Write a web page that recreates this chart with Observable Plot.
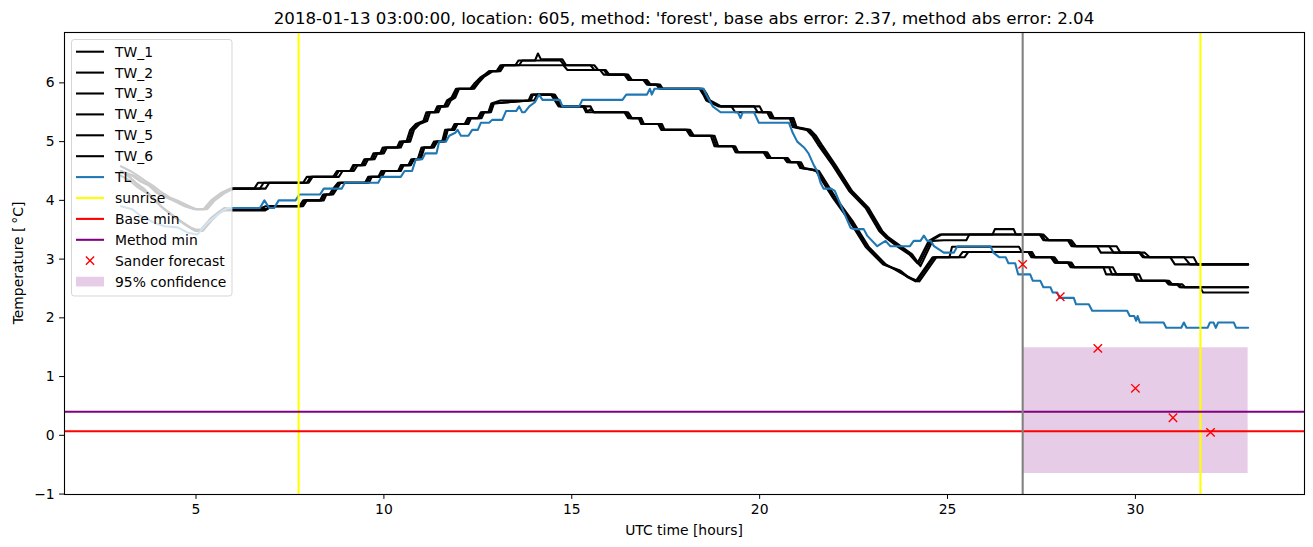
<!DOCTYPE html>
<html><head><meta charset="utf-8">
<script src="https://cdn.jsdelivr.net/npm/d3@7"></script>
<script src="https://cdn.jsdelivr.net/npm/@observablehq/plot@0.6"></script>
<style>
body{margin:0;background:#fff;}
#wrap{position:relative;width:1313px;height:547px;overflow:hidden;background:#fff;}
#wrap > svg{position:absolute;left:0;top:0;}
</style></head><body><div id="wrap"></div>
<script>
const titleText = "2018-01-13 03:00:00, location: 605, method: 'forest', base abs error: 2.37, method abs error: 2.04";
const xLabel = "UTC time [hours]";
const yLabel = "Temperature [\u2009°C]";
const xTicks = [5, 10, 15, 20, 25, 30];
const yTicks = [-1, 0, 1, 2, 3, 4, 5, 6];
const legendLabels = ["TW_1","TW_2","TW_3","TW_4","TW_5","TW_6","TL","sunrise","Base min","Method min","Sander forecast","95% confidence"];

const tw1 = [[3.0,4.58],[3.25,4.5],[3.45,4.42],[3.65,4.33],[3.85,4.25],[4.1,4.13],[4.3,4.05],[4.5,4.0],[4.75,3.92],[5.0,3.85],[5.2,3.85],[5.4,4.0],[5.65,4.12],[5.9,4.2],[6.55,4.2],[6.65,4.3],[7.85,4.3],[7.95,4.4],[8.7,4.4],[8.8,4.5],[9.15,4.5],[9.22,4.6],[9.45,4.6],[9.52,4.7],[9.7,4.7],[9.77,4.8],[9.95,4.8],[10.02,4.9],[10.4,4.9],[10.47,5.0],[10.65,5.0],[10.75,5.2],[10.88,5.3],[11.1,5.35],[11.18,5.5],[11.4,5.5],[11.46,5.6],[11.65,5.6],[11.72,5.7],[11.85,5.75],[11.96,5.9],[12.35,5.9],[12.48,6.0],[12.62,6.1],[12.72,6.15],[12.85,6.2],[13.05,6.2],[13.15,6.3],[13.5,6.3],[13.58,6.38],[14.02,6.38],[14.1,6.5],[14.18,6.4],[14.75,6.4],[14.85,6.3],[15.5,6.3],[15.6,6.22],[15.75,6.22],[15.85,6.14],[16.45,6.14],[16.55,6.05],[16.95,6.05],[17.05,5.97],[17.3,5.97],[17.38,5.9],[18.45,5.9],[18.55,5.8],[18.62,5.7],[18.95,5.6],[19.85,5.6],[19.95,5.5],[20.25,5.5],[20.33,5.4],[20.85,5.4],[20.93,5.25],[21.3,5.2],[21.45,5.1],[21.6,4.95],[21.98,4.6],[22.42,4.16],[22.86,3.87],[23.22,3.48],[23.39,3.37],[23.75,3.2],[24.02,3.08],[24.24,2.91],[24.55,3.31],[24.85,3.42],[26.2,3.42],[26.26,3.51],[26.76,3.51],[26.82,3.42],[27.5,3.42],[27.6,3.32],[28.25,3.32],[28.35,3.22],[28.98,3.22],[29.08,3.11],[30.13,3.11],[30.25,3.03],[30.93,3.03],[31.05,2.91],[33.0,2.91]];
const tw2 = [[3.0,4.5],[3.3,4.42],[3.5,4.33],[3.75,4.25],[3.95,4.13],[4.2,4.05],[4.45,3.98],[4.7,3.9],[4.95,3.85],[5.25,3.85],[5.45,4.0],[5.7,4.12],[5.95,4.2],[6.7,4.2],[6.8,4.3],[8.0,4.3],[8.1,4.4],[8.8,4.4],[8.9,4.5],[9.2,4.5],[9.3,4.6],[9.5,4.6],[9.58,4.7],[9.75,4.7],[9.83,4.8],[10.0,4.8],[10.08,4.9],[10.45,4.9],[10.52,5.0],[10.7,5.0],[10.8,5.2],[10.95,5.3],[11.15,5.35],[11.23,5.5],[11.45,5.5],[11.52,5.6],[11.7,5.6],[11.78,5.7],[11.9,5.75],[12.0,5.9],[12.4,5.9],[12.52,6.0],[12.66,6.1],[12.78,6.15],[12.9,6.2],[13.1,6.2],[13.2,6.3],[13.6,6.3],[13.68,6.38],[14.7,6.38],[14.8,6.3],[15.6,6.3],[15.7,6.22],[15.85,6.22],[15.95,6.14],[16.5,6.14],[16.6,6.05],[17.0,6.05],[17.1,5.97],[17.35,5.97],[17.42,5.9],[18.5,5.9],[18.6,5.8],[18.68,5.7],[18.98,5.6],[19.25,5.6],[19.35,5.5],[20.3,5.5],[20.38,5.4],[20.9,5.4],[20.98,5.25],[21.35,5.2],[21.5,5.1],[21.65,4.95],[22.02,4.6],[22.46,4.16],[22.9,3.87],[23.26,3.48],[23.43,3.37],[23.8,3.2],[24.06,3.08],[24.28,2.88],[24.6,3.31],[24.9,3.32],[25.5,3.32],[25.58,3.42],[27.55,3.42],[27.7,3.32],[28.3,3.32],[28.42,3.22],[29.3,3.22],[29.42,3.11],[30.25,3.11],[30.38,3.03],[31.3,3.03],[31.45,2.91],[33.0,2.91]];
const tw3 = [[3.0,4.5],[3.35,4.42],[3.55,4.33],[3.8,4.25],[4.0,4.13],[4.25,4.05],[4.5,3.98],[4.75,3.9],[5.0,3.85],[5.3,3.85],[5.5,4.0],[5.75,4.12],[6.0,4.2],[6.85,4.2],[6.95,4.3],[7.95,4.3],[8.05,4.4],[8.65,4.4],[8.75,4.5],[9.1,4.5],[9.18,4.6],[9.4,4.6],[9.48,4.7],[9.65,4.7],[9.72,4.8],[9.9,4.8],[9.97,4.9],[10.35,4.9],[10.42,5.0],[10.6,5.0],[10.7,5.2],[10.85,5.3],[11.05,5.35],[11.13,5.5],[11.35,5.5],[11.42,5.6],[11.6,5.6],[11.68,5.7],[11.8,5.75],[11.92,5.9],[12.3,5.9],[12.42,6.0],[12.58,6.1],[12.7,6.15],[12.8,6.2],[13.0,6.2],[13.1,6.3],[14.78,6.3],[14.88,6.22],[15.9,6.22],[16.0,6.14],[16.4,6.14],[16.5,6.05],[16.9,6.05],[17.0,5.97],[17.25,5.97],[17.33,5.9],[18.4,5.9],[18.5,5.8],[18.58,5.7],[18.9,5.6],[20.0,5.6],[20.08,5.5],[20.2,5.5],[20.28,5.4],[20.8,5.4],[20.88,5.25],[21.25,5.2],[21.4,5.1],[21.55,4.95],[21.94,4.6],[22.38,4.16],[22.82,3.87],[23.18,3.48],[23.35,3.37],[23.7,3.2],[23.98,3.08],[24.2,2.93],[24.5,3.31],[24.8,3.42],[27.45,3.42],[27.55,3.32],[28.2,3.32],[28.3,3.22],[29.5,3.22],[29.6,3.11],[30.1,3.11],[30.2,3.03],[31.55,3.03],[31.65,2.91],[33.0,2.91]];
const tw4 = [[3.0,4.5],[3.2,4.42],[3.4,4.3],[3.63,4.19],[3.85,4.05],[4.07,3.9],[4.3,3.78],[4.51,3.68],[4.78,3.56],[4.96,3.5],[5.13,3.5],[5.4,3.7],[5.6,3.8],[5.75,3.87],[6.75,3.87],[6.85,3.9],[7.8,3.9],[7.9,4.0],[8.35,4.0],[8.42,4.1],[8.6,4.1],[8.7,4.2],[8.8,4.3],[9.55,4.3],[9.62,4.4],[9.9,4.4],[9.98,4.5],[10.42,4.5],[10.5,4.6],[10.7,4.6],[10.78,4.7],[10.95,4.7],[11.05,4.9],[11.3,4.9],[11.38,5.0],[11.58,5.0],[11.68,5.2],[11.85,5.2],[11.92,5.3],[12.2,5.3],[12.28,5.4],[12.55,5.4],[12.62,5.5],[12.82,5.5],[12.9,5.65],[13.85,5.7],[13.92,5.8],[14.5,5.8],[14.6,5.7],[14.7,5.6],[15.35,5.6],[15.42,5.5],[16.45,5.5],[16.55,5.4],[16.8,5.4],[16.88,5.3],[17.35,5.3],[17.42,5.2],[18.1,5.2],[18.2,5.1],[18.75,5.1],[18.85,4.92],[19.3,4.92],[19.38,4.82],[20.15,4.82],[20.25,4.72],[20.7,4.72],[20.78,4.65],[21.05,4.65],[21.12,4.55],[21.4,4.52],[21.53,4.5],[21.98,4.04],[22.42,3.65],[22.86,3.2],[23.31,2.91],[23.75,2.8],[23.95,2.7],[24.19,2.62],[24.64,3.03],[25.05,3.03],[25.12,3.21],[26.9,3.21],[26.98,3.12],[27.2,3.12],[27.28,3.03],[27.8,3.03],[27.88,2.94],[28.25,2.94],[28.32,2.86],[29.15,2.86],[29.22,2.74],[30.0,2.74],[30.08,2.63],[30.85,2.63],[30.92,2.57],[31.15,2.57],[31.22,2.52],[33.0,2.52]];
const tw5 = [[3.0,4.42],[3.25,4.33],[3.45,4.22],[3.7,4.12],[3.9,4.0],[4.12,3.87],[4.35,3.76],[4.58,3.65],[4.85,3.54],[5.0,3.5],[5.2,3.5],[5.45,3.68],[5.65,3.8],[5.8,3.83],[6.85,3.83],[6.95,3.9],[7.85,3.9],[7.95,4.0],[8.3,4.0],[8.38,4.1],[8.55,4.1],[8.65,4.2],[8.78,4.3],[9.5,4.3],[9.58,4.4],[9.85,4.4],[9.93,4.5],[10.38,4.5],[10.45,4.6],[10.65,4.6],[10.73,4.7],[10.9,4.7],[11.0,4.9],[11.25,4.9],[11.33,5.0],[11.55,5.0],[11.63,5.2],[11.8,5.2],[11.88,5.3],[12.15,5.3],[12.23,5.4],[12.5,5.4],[12.58,5.5],[12.78,5.5],[12.86,5.65],[13.1,5.7],[14.0,5.7],[14.08,5.8],[14.45,5.8],[14.55,5.7],[14.65,5.6],[15.5,5.6],[15.58,5.5],[16.5,5.5],[16.6,5.4],[16.85,5.4],[16.92,5.3],[17.4,5.3],[17.47,5.2],[18.15,5.2],[18.25,5.1],[18.8,5.1],[18.9,4.92],[19.35,4.92],[19.43,4.82],[20.2,4.82],[20.3,4.72],[20.75,4.72],[20.83,4.65],[21.1,4.65],[21.18,4.55],[21.45,4.52],[21.58,4.5],[22.03,4.04],[22.47,3.65],[22.91,3.2],[23.36,2.91],[23.8,2.75],[24.0,2.68],[24.25,2.62],[24.7,3.03],[25.3,3.03],[25.4,3.12],[27.25,3.12],[27.33,3.03],[27.85,3.03],[27.95,2.94],[28.3,2.94],[28.38,2.86],[29.3,2.86],[29.38,2.74],[30.1,2.74],[30.18,2.63],[30.9,2.63],[30.98,2.57],[31.25,2.57],[31.32,2.52],[31.72,2.52],[31.8,2.43],[33.0,2.43]];
const tw6 = [[3.0,4.5],[3.22,4.4],[3.42,4.28],[3.66,4.16],[3.88,4.02],[4.1,3.88],[4.32,3.77],[4.55,3.66],[4.8,3.55],[4.98,3.48],[5.18,3.48],[5.42,3.69],[5.62,3.8],[5.78,3.85],[6.9,3.85],[7.0,3.9],[7.75,3.9],[7.85,4.0],[8.4,4.0],[8.47,4.1],[8.65,4.1],[8.75,4.2],[8.85,4.3],[9.6,4.3],[9.68,4.4],[9.95,4.4],[10.03,4.5],[10.45,4.5],[10.53,4.6],[10.72,4.6],[10.8,4.7],[10.98,4.7],[11.08,4.9],[11.33,4.9],[11.42,5.0],[11.62,5.0],[11.7,5.2],[11.88,5.2],[11.96,5.3],[12.25,5.3],[12.32,5.4],[12.6,5.4],[12.67,5.5],[12.85,5.5],[12.93,5.65],[13.9,5.7],[13.97,5.8],[14.55,5.8],[14.65,5.7],[14.75,5.6],[15.3,5.6],[15.38,5.5],[15.5,5.55],[15.6,5.5],[16.4,5.5],[16.5,5.4],[16.78,5.4],[16.85,5.3],[17.3,5.3],[17.38,5.2],[18.05,5.2],[18.15,5.1],[18.7,5.1],[18.8,4.92],[19.28,4.92],[19.36,4.82],[20.1,4.82],[20.2,4.72],[20.65,4.72],[20.73,4.65],[21.0,4.65],[21.08,4.55],[21.38,4.52],[21.5,4.5],[21.95,4.04],[22.39,3.65],[22.83,3.2],[23.28,2.91],[23.72,2.8],[23.92,2.7],[24.15,2.62],[24.6,3.03],[25.45,3.03],[25.55,3.12],[27.15,3.12],[27.23,3.03],[27.75,3.03],[27.85,2.94],[28.2,2.94],[28.28,2.86],[29.4,2.86],[29.5,2.74],[29.95,2.74],[30.03,2.63],[30.8,2.63],[30.88,2.57],[31.1,2.57],[31.18,2.52],[33.0,2.52]];
const tl = [[3.0,3.9],[3.3,3.85],[3.54,3.73],[3.89,3.62],[4.16,3.56],[4.51,3.54],[4.78,3.45],[5.04,3.42],[5.31,3.62],[5.58,3.76],[5.84,3.87],[6.7,3.87],[6.82,4.0],[6.95,3.87],[7.08,3.87],[7.2,4.0],[7.65,4.0],[7.75,4.1],[8.3,4.1],[8.4,4.2],[8.88,4.2],[8.96,4.3],[9.85,4.3],[9.93,4.4],[10.45,4.4],[10.55,4.5],[10.75,4.5],[10.85,4.7],[11.02,4.7],[11.1,4.8],[11.4,4.8],[11.47,5.0],[11.65,5.0],[11.74,5.1],[11.9,5.15],[11.96,5.2],[12.05,5.1],[12.25,5.1],[12.35,5.2],[12.5,5.2],[12.58,5.32],[12.8,5.32],[12.88,5.37],[13.15,5.37],[13.25,5.52],[13.52,5.52],[13.6,5.6],[13.68,5.5],[13.75,5.5],[13.87,5.6],[14.02,5.67],[14.13,5.8],[14.22,5.71],[14.68,5.71],[14.75,5.6],[15.2,5.6],[15.28,5.71],[16.35,5.71],[16.45,5.8],[17.0,5.8],[17.08,5.9],[17.13,5.8],[17.2,5.9],[18.5,5.9],[18.62,5.75],[18.75,5.6],[18.96,5.5],[19.42,5.5],[19.49,5.4],[19.55,5.5],[19.85,5.5],[19.98,5.32],[20.78,5.32],[20.88,5.15],[21.0,5.0],[21.18,4.9],[21.3,4.8],[21.44,4.6],[21.53,4.5],[21.62,4.3],[21.7,4.2],[21.9,4.2],[22.0,4.16],[22.15,3.93],[22.42,3.53],[22.51,3.51],[22.77,3.51],[22.86,3.4],[23.13,3.22],[23.35,3.31],[23.48,3.22],[24.0,3.22],[24.1,3.31],[24.28,3.31],[24.37,3.4],[24.46,3.31],[24.55,3.31],[24.64,3.22],[24.9,3.11],[25.17,3.11],[25.26,3.22],[26.14,3.22],[26.22,3.11],[26.38,3.03],[26.55,3.03],[26.62,2.93],[26.8,2.93],[26.88,2.74],[27.2,2.74],[27.27,2.63],[27.47,2.63],[27.55,2.52],[27.74,2.52],[27.8,2.43],[27.92,2.43],[27.98,2.34],[28.36,2.34],[28.42,2.23],[28.76,2.23],[28.85,2.12],[29.78,2.12],[29.85,2.03],[29.97,2.03],[30.02,1.95],[30.06,2.03],[30.12,1.92],[30.75,1.92],[30.82,1.83],[31.22,1.83],[31.29,1.92],[31.36,1.83],[31.92,1.83],[31.98,1.92],[32.08,1.92],[32.14,1.83],[32.2,1.92],[32.62,1.92],[32.68,1.83],[33.0,1.83]];

const sunriseHours = [7.73, 31.73];
const forecastStartHour = [27.0];
const baseMin = [0.07];
const methodMin = [0.40];
const forecastHours = [27, 28, 29, 30, 31, 32];
const forecastValues = [2.91, 2.36, 1.48, 0.80, 0.30, 0.05];
const confidenceHours = [27, 33];
const confidenceBounds = [-0.65, 1.49];

const twSeries = [["TW_1", tw1], ["TW_2", tw2], ["TW_3", tw3], ["TW_4", tw4], ["TW_5", tw5], ["TW_6", tw6]];
const twRows = twSeries.flatMap(([name, pts]) => pts.map(([h, v]) => ({name, h, v})));
const tlRows = tl.map(([h, v]) => ({h, v}));
const forecastRows = forecastHours.map((h, i) => ({h, v: forecastValues[i]}));
const confRows = [{x1: confidenceHours[0], x2: confidenceHours[1], y1: confidenceBounds[0], y2: confidenceBounds[1]}];

const FONT = "DejaVu Sans";
const LW = 2.08;
const chart = Plot.plot({
  width: 1313, height: 547,
  marginLeft: 64, marginRight: 9, marginTop: 32, marginBottom: 53,
  style: {fontFamily: FONT, fontSize: "13.9px", background: "white", color: "black", overflow: "visible"},
  x: {domain: [1.5, 34.5], ticks: xTicks, tickSize: 4.9, tickPadding: 4.9, label: null},
  y: {domain: [-1.0075, 6.8575], ticks: yTicks, tickSize: 4.9, tickPadding: 4.9, label: null},
  marks: [
    Plot.rect(confRows, {x1: "x1", x2: "x2", y1: "y1", y2: "y2", fill: "purple", fillOpacity: 0.2}),
    Plot.line(twRows, {x: "h", y: "v", z: "name", stroke: "black", strokeWidth: LW}),
    Plot.line(tlRows, {x: "h", y: "v", stroke: "#1f77b4", strokeWidth: LW}),
    Plot.ruleX(sunriseHours, {stroke: "yellow", strokeWidth: LW}),
    Plot.ruleY(baseMin, {stroke: "red", strokeWidth: LW}),
    Plot.ruleY(methodMin, {stroke: "purple", strokeWidth: LW}),
    Plot.ruleX(forecastStartHour, {stroke: "gray", strokeWidth: LW}),
    Plot.dot(forecastRows, {x: "h", y: "v", symbol: "times", r: 3.9, stroke: "red", strokeWidth: 1.4}),
    Plot.frame({stroke: "black", strokeWidth: 1.1})
  ]
});
const wrap = document.getElementById("wrap");
wrap.appendChild(chart);

// overlay: title, axis labels, legend
const NS = "http://www.w3.org/2000/svg";
const ov = document.createElementNS(NS, "svg");
ov.setAttribute("width", 1313); ov.setAttribute("height", 547);
ov.setAttribute("font-family", FONT);
wrap.appendChild(ov);
function el(tag, attrs, parent = ov) {
  const e = document.createElementNS(NS, tag);
  for (const k in attrs) e.setAttribute(k, attrs[k]);
  parent.appendChild(e);
  return e;
}
el("text", {x: 684, y: 23.7, "text-anchor": "middle", "font-size": "16.67px", fill: "black"}).textContent = titleText;
el("text", {x: 684, y: 535, "text-anchor": "middle", "font-size": "13.9px", fill: "black"}).textContent = xLabel;
el("text", {transform: "translate(22.5,263) rotate(-90)", "text-anchor": "middle", "font-size": "13.9px", fill: "black"}).textContent = yLabel;

// legend
el("rect", {x: 71.5, y: 39.5, width: 160.5, height: 256.5, rx: 2.8, fill: "white", "fill-opacity": 0.8, stroke: "#cccccc", "stroke-opacity": 0.8, "stroke-width": 1});
const legendStyles = [
  {t: "line", c: "black"}, {t: "line", c: "black"}, {t: "line", c: "black"},
  {t: "line", c: "black"}, {t: "line", c: "black"}, {t: "line", c: "black"},
  {t: "line", c: "#1f77b4"}, {t: "line", c: "yellow"}, {t: "line", c: "red"},
  {t: "line", c: "purple"}, {t: "x", c: "red"}, {t: "patch", c: "purple"}
];
legendLabels.forEach((lab, i) => {
  const cy = 51.7 + 20.9 * i;
  const s = legendStyles[i];
  if (s.t === "line") el("line", {x1: 76, x2: 104, y1: cy, y2: cy, stroke: s.c, "stroke-width": LW});
  else if (s.t === "x") el("path", {d: `M${90-4.1},${cy-4.1}L${90+4.1},${cy+4.1}M${90-4.1},${cy+4.1}L${90+4.1},${cy-4.1}`, stroke: s.c, "stroke-width": 1.4, fill: "none"});
  else el("rect", {x: 76, y: cy - 4.85, width: 28, height: 9.7, fill: s.c, "fill-opacity": 0.2});
  el("text", {x: 115, y: cy + 4.9, "font-size": "13.9px", fill: "black"}).textContent = lab;
});
</script></body></html>
